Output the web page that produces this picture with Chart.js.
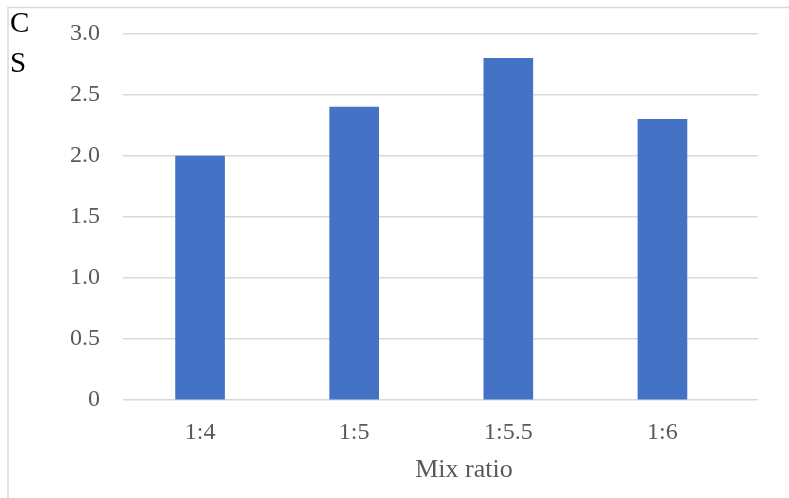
<!DOCTYPE html>
<html>
<head>
<meta charset="utf-8">
<script src="https://cdn.jsdelivr.net/npm/chart.js@4"></script>
<style>
  html, body { margin: 0; padding: 0; background: #ffffff; }
  #wrap { width: 789px; height: 498px; position: relative; }
</style>
</head>
<body>
<div id="wrap"><canvas id="chart" width="789" height="498"></canvas></div>
<script>
// Mix ratio categories and measured values
const categories = ['1:4', '1:5', '1:5.5', '1:6'];
const csValues = [2.0, 2.4, 2.8, 2.3];
const yTicks = [0, 0.5, 1.0, 1.5, 2.0, 2.5, 3.0];

const SERIF = "'Liberation Serif', 'Times New Roman', serif";
const GRID = '#d9d9d9';
const TEXT = '#595959';

// Frame lines plus the axis titles drawn onto the canvas
const decorations = {
  id: 'decorations',
  beforeDraw(chart) {
    const ctx = chart.ctx;
    ctx.save();
    ctx.strokeStyle = GRID;
    ctx.lineWidth = 1.5;
    ctx.beginPath();
    ctx.moveTo(8, 498);
    ctx.lineTo(8, 7.5);
    ctx.lineTo(789, 7.5);
    ctx.stroke();
    ctx.restore();
  },
  afterDraw(chart) {
    const ctx = chart.ctx;
    ctx.save();
    ctx.fillStyle = '#000000';
    ctx.font = '29px ' + SERIF;
    ctx.textAlign = 'left';
    ctx.textBaseline = 'alphabetic';
    ctx.fillText('C', 10, 32);
    ctx.fillText('S', 10, 72);
    ctx.fillStyle = TEXT;
    ctx.font = '26px ' + SERIF;
    ctx.textAlign = 'center';
    ctx.fillText('Mix ratio', 464, 477);
    ctx.restore();
  }
};

new Chart(document.getElementById('chart'), {
  type: 'bar',
  data: {
    datasets: [{
      data: csValues.map((v, i) => ({ x: i, y: v })),
      backgroundColor: '#4472c4',
      borderWidth: 0,
      barThickness: 49
    }]
  },
  options: {
    responsive: false,
    animation: false,
    events: [],
    layout: { padding: { left: 0, right: 31, top: 34, bottom: 0 } },
    plugins: { legend: { display: false }, tooltip: { enabled: false } },
    scales: {
      x: {
        type: 'linear',
        offset: false,
        min: -0.5,
        max: 3.62,
        afterBuildTicks(scale) {
          scale.ticks = categories.map((c, i) => ({ value: i }));
        },
        afterFit(scale) { scale.height = 98; },
        grid: { display: false, drawTicks: false, offset: false },
        border: { display: false },
        ticks: {
          padding: 18,
          autoSkip: false,
          maxRotation: 0,
          color: TEXT,
          font: { family: SERIF, size: 24 },
          callback: (v) => categories[v] ?? ''
        }
      },
      y: {
        min: 0,
        max: 3,
        afterBuildTicks(scale) {
          scale.ticks = yTicks.map(v => ({ value: v }));
        },
        afterFit(scale) {
          scale.width = 123;
          scale.paddingTop = 14;
          scale.paddingBottom = 14;
        },
        grid: { color: GRID, lineWidth: 1.5, drawTicks: false },
        border: { display: false },
        ticks: {
          padding: 23,
          color: TEXT,
          font: { family: SERIF, size: 24 },
          callback: (v) => v === 0 ? '0' : v.toFixed(1)
        }
      }
    }
  },
  plugins: [decorations]
});
</script>
</body>
</html>
